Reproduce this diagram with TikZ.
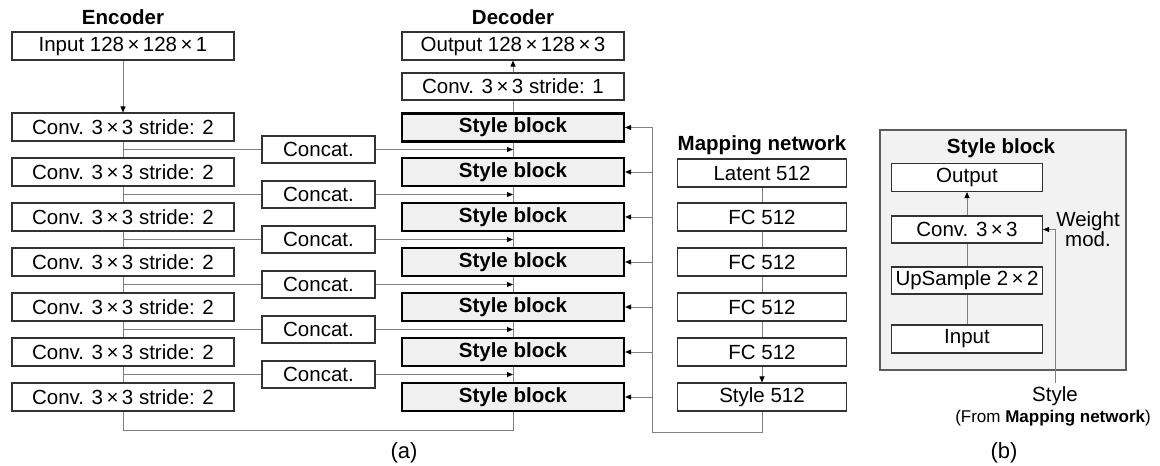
\documentclass[tikz,border=0pt]{standalone}
\usepackage{fontspec}
\setmainfont{Liberation Sans}
\usetikzlibrary{arrows.meta}
\definecolor{linegray}{HTML}{808080}
\definecolor{boxgray}{HTML}{333333}
\definecolor{blockfill}{HTML}{F0F0F0}
\definecolor{panelfill}{HTML}{F2F2F2}
\newcommand{\tms}{\,×\,}

\begin{document}
\begin{tikzpicture}[x=1pt,y=-1pt,
    font=\fontsize{20.5}{18}\selectfont,
    layer/.style={draw=boxgray, line width=1.1pt, fill=white, inner sep=0pt, minimum height=28pt},
    enclayer/.style={layer, minimum width=222pt},
    maplayer/.style={layer, minimum width=169pt},
    sblayer/.style={layer, minimum width=151pt},
    catlayer/.style={layer, minimum width=113pt, minimum height=27pt},
    styleblock/.style={draw=black, line width=2.2pt, fill=blockfill, inner sep=0pt,
        minimum width=222pt, minimum height=28pt, font=\fontsize{20.5}{18}\selectfont\bfseries},
    title/.style={font=\fontsize{20.5}{18}\selectfont\bfseries},
    conn/.style={draw=linegray, line width=0.9pt},
    arr/.style={conn, -{Triangle[length=6pt,width=5pt,color=black]}}]
    \useasboundingbox (0,0) rectangle (1160,466);

    % encoder
    \node[title] (enctitle) at (123,17) {Encoder};
    \node[enclayer] (e0) at (123,46) {Input 128\tms128\tms1};
    \node[enclayer] (e1) at (123,127) {Conv. 3\tms3 stride: 2};
    \node[enclayer] (e2) at (123,172) {Conv. 3\tms3 stride: 2};
    \node[enclayer] (e3) at (123,217) {Conv. 3\tms3 stride: 2};
    \node[enclayer] (e4) at (123,262) {Conv. 3\tms3 stride: 2};
    \node[enclayer] (e5) at (123,307) {Conv. 3\tms3 stride: 2};
    \node[enclayer] (e6) at (123,352) {Conv. 3\tms3 stride: 2};
    \node[enclayer] (e7) at (123,397) {Conv. 3\tms3 stride: 2};

    % decoder
    \node[title] (dectitle) at (513,17) {Decoder};
    \node[enclayer] (dout) at (513,46) {Output 128\tms128\tms3};
    \node[enclayer, minimum height=27pt] (dconv) at (513,86.5) {Conv. 3\tms3 stride: 1};
    \node[styleblock] (s1) at (513,127.5) {Style block};
    \node[styleblock] (s2) at (513,172) {Style block};
    \node[styleblock] (s3) at (513,217) {Style block};
    \node[styleblock] (s4) at (513,262) {Style block};
    \node[styleblock] (s5) at (513,307) {Style block};
    \node[styleblock] (s6) at (513,352) {Style block};
    \node[styleblock] (s7) at (513,397) {Style block};

    % skip connections
    \node[catlayer] (c1) at (318.5,149.5) {Concat.};
    \node[catlayer] (c2) at (318.5,194.5) {Concat.};
    \node[catlayer] (c3) at (318.5,239.5) {Concat.};
    \node[catlayer] (c4) at (318.5,284.5) {Concat.};
    \node[catlayer] (c5) at (318.5,329.5) {Concat.};
    \node[catlayer] (c6) at (318.5,374.5) {Concat.};

    % mapping network
    \node[title] (maptitle) at (762,145) {Mapping network};
    \node[maplayer] (m1) at (762,173) {Latent 512};
    \node[maplayer] (m2) at (762,217) {FC 512};
    \node[maplayer] (m3) at (762,262) {FC 512};
    \node[maplayer] (m4) at (762,307) {FC 512};
    \node[maplayer] (m5) at (762,352) {FC 512};
    \node[maplayer] (m6) at (762,397) {Style 512};

    % encoder lines
    \draw[arr] (e0) -- (e1);
    \draw[conn] (e1) -- (e2);
    \draw[conn] (e2) -- (e3);
    \draw[conn] (e3) -- (e4);
    \draw[conn] (e4) -- (e5);
    \draw[conn] (e5) -- (e6);
    \draw[conn] (e6) -- (e7);
    \draw[conn] (e7.south) -- (e7.south |- 0,430) -| (s7.south);

    % decoder lines
    \draw[conn] (s7) -- (s6);
    \draw[conn] (s6) -- (s5);
    \draw[conn] (s5) -- (s4);
    \draw[conn] (s4) -- (s3);
    \draw[conn] (s3) -- (s2);
    \draw[conn] (s2) -- (s1);
    \draw[conn] (s1) -- (dconv);
    \draw[arr] (dconv) -- (dout);

    % concat lines
    \draw[conn] (c1.west -| e1.south) -- (c1.west);
    \draw[conn] (c2.west -| e2.south) -- (c2.west);
    \draw[conn] (c3.west -| e3.south) -- (c3.west);
    \draw[conn] (c4.west -| e4.south) -- (c4.west);
    \draw[conn] (c5.west -| e5.south) -- (c5.west);
    \draw[conn] (c6.west -| e6.south) -- (c6.west);
    \draw[arr] (c1.east) -- (c1.east -| s1.south);
    \draw[arr] (c2.east) -- (c2.east -| s2.south);
    \draw[arr] (c3.east) -- (c3.east -| s3.south);
    \draw[arr] (c4.east) -- (c4.east -| s4.south);
    \draw[arr] (c5.east) -- (c5.east -| s5.south);
    \draw[arr] (c6.east) -- (c6.east -| s6.south);

    % mapping lines
    \draw[conn] (m1) -- (m2);
    \draw[conn] (m2) -- (m3);
    \draw[conn] (m3) -- (m4);
    \draw[conn] (m4) -- (m5);
    \draw[arr] (m5) -- (m6);
    \coordinate (bus) at (652,432);
    \draw[arr] (m6.south) |- (bus) |- (s1.east);
    \draw[arr] (s2.east -| bus) -- (s2.east);
    \draw[arr] (s3.east -| bus) -- (s3.east);
    \draw[arr] (s4.east -| bus) -- (s4.east);
    \draw[arr] (s5.east -| bus) -- (s5.east);
    \draw[arr] (s6.east -| bus) -- (s6.east);
    \draw[arr] (s7.east -| bus) -- (s7.east);

    % style block detail
    \draw[draw=boxgray!80, line width=1.1pt, fill=panelfill] (880,130) rectangle (1126,370);
    \node[title] (sbtitle) at (1001,148) {Style block};
    \node[sblayer] (po) at (967,177.5) {Output};
    \node[sblayer, minimum height=27pt] (pc) at (967,229.5) {Conv. 3\tms3};
    \node[sblayer, minimum height=27pt] (pu) at (967,280.5) {UpSample 2\tms2};
    \node[sblayer] (pi) at (967,339) {Input};
    \draw[conn] (pi) -- (pu);
    \draw[conn] (pu) -- (pc);
    \draw[arr] (pc) -- (po);
    \node[align=center] (wmod) at (1088,229) {Weight\\mod.};
    \node (sty) at (1055,396) {Style};
    \node[font=\fontsize{17}{18}\selectfont] (stysrc) at (1053,418) {(From \textbf{Mapping network})};
    \draw[arr] (sty.north) |- (pc.east);

    % captions
    \node[font=\fontsize{22}{24}\selectfont] (capa) at (404,453) {(a)};
    \node[font=\fontsize{22}{24}\selectfont] (capb) at (1004,453) {(b)};
\end{tikzpicture}
\end{document}
